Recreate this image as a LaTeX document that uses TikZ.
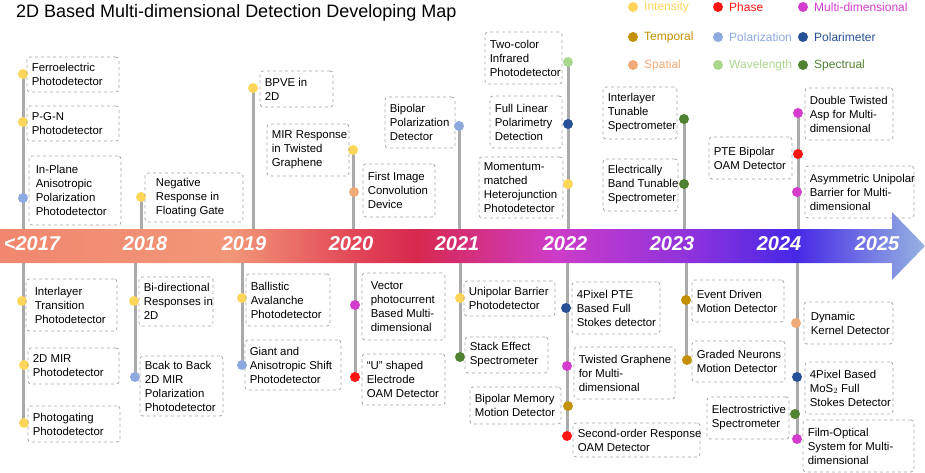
\documentclass[tikz,border=0pt]{standalone}
\usepackage{fontspec}
\setmainfont{Liberation Sans}
\definecolor{cInt}{RGB}{255,214,90}
\definecolor{cPha}{RGB}{255,20,20}
\definecolor{cMul}{RGB}{212,60,205}
\definecolor{cTem}{RGB}{195,145,0}
\definecolor{cPol}{RGB}{140,170,225}
\definecolor{cPom}{RGB}{40,80,150}
\definecolor{cSpa}{RGB}{240,170,120}
\definecolor{cWav}{RGB}{170,215,140}
\definecolor{cSpe}{RGB}{80,130,50}
\definecolor{stemc}{RGB}{170,170,170}
\definecolor{g0}{RGB}{240,135,110}
\definecolor{g1}{RGB}{242,150,120}
\definecolor{g2}{RGB}{226,72,88}
\definecolor{g3}{RGB}{215,40,78}
\definecolor{g4}{RGB}{205,60,200}
\definecolor{g5}{RGB}{140,50,220}
\definecolor{g6}{RGB}{70,40,230}
\definecolor{g7}{RGB}{150,180,225}
\pgfdeclarehorizontalshading{tl}{100bp}{color(0bp)=(g0); color(25bp)=(g0); color(37.5bp)=(g1); color(44bp)=(g2); color(47.5bp)=(g3); color(55bp)=(g4); color(62.5bp)=(g5); color(68bp)=(g6); color(75bp)=(g7); color(100bp)=(g7)}
\tikzset{
  bx/.style={draw=gray!70, dashed, rounded corners=3pt, line width=0.8pt, inner sep=0pt},
  txt/.style={font=\fontsize{11.4}{14}\selectfont, align=left, inner sep=0pt, anchor=west},
  dot/.style={circle, fill=#1, minimum size=10pt, inner sep=0pt},
  stem/.style={draw=stemc, line width=3pt},
  yr/.style={font=\fontsize{20}{20}\selectfont\bfseries\itshape, text=white, inner sep=0pt},
  leg/.style={font=\fontsize{12}{14}\selectfont, anchor=west, inner sep=0pt, text=#1}
}
\newcommand\bx[6]{%
  \node[bx, minimum width={(#4-#2)*1pt}, minimum height={(#5-#3)*1pt}] (#1) at ({(#2+#4)/2},{(#3+#5)/2}) {};
  \node[txt] (#1t) at ([xshift=5pt]#1.west) {#6};}
\newcommand\st[4]{\coordinate (#1a) at (#2,#3); \coordinate (#1b) at (#2,#4); \draw[stem] (#1a) -- (#1b);}
\newcommand\dt[4]{\node[dot=#4] (#1) at (#2,#3) {};}
\begin{document}
\begin{tikzpicture}[x=1pt,y=-1pt]
\useasboundingbox (0,0) rectangle (925,473);
% band
\path[shading=tl] (0,229) -- (892,229) -- (892,212) -- (925,246) -- (892,280) -- (892,263) -- (0,263) -- cycle;
% title
\node[anchor=west, inner sep=0pt, font=\fontsize{18}{20}\selectfont] (title) at (16,13) {2D Based Multi-dimensional Detection Developing Map};
% legend
\dt{l1}{633}{7}{cInt}\node[leg=cInt] (l1t) at (644,7) {Intensity};
\dt{l2}{718}{7}{cPha}\node[leg=cPha] (l2t) at (729,7) {Phase};
\dt{l3}{803}{7}{cMul}\node[leg=cMul] (l3t) at (814,7) {Multi-dimensional};
\dt{l4}{633}{37}{cTem}\node[leg=cTem] (l4t) at (644,37) {Temporal};
\dt{l5}{718}{37}{cPol}\node[leg=cPol] (l5t) at (729,37) {Polarization};
\dt{l6}{803}{37}{cPom}\node[leg=cPom] (l6t) at (814,37) {Polarimeter};
\dt{l7}{633}{65}{cSpa}\node[leg=cSpa] (l7t) at (644,65) {Spatial};
\dt{l8}{718}{65}{cWav}\node[leg=cWav] (l8t) at (729,65) {Wavelength};
\dt{l9}{803}{65}{cSpe}\node[leg=cSpe] (l9t) at (814,65) {Spectrual};
% years
\node[yr] (y17) at (32,244) {<2017};
\node[yr] (y18) at (145,244) {2018};
\node[yr] (y19) at (244,244) {2019};
\node[yr] (y20) at (351,244) {2020};
\node[yr] (y21) at (457,244) {2021};
\node[yr] (y22) at (565,244) {2022};
\node[yr] (y23) at (672,244) {2023};
\node[yr] (y24) at (779,244) {2024};
\node[yr] (y25) at (877,244) {2025};
% top stems
\st{s1}{23}{74}{229}\st{s2}{141}{197}{229}\st{s3}{253}{88}{229}\st{s4}{353}{150}{229}
\st{s5}{459}{126}{229}\st{s6}{568}{62}{229}\st{s7}{684}{119}{229}\st{s8}{798}{113}{229}
% bottom stems
\st{b1}{23}{263}{423}\st{b2}{135}{263}{377}\st{b3}{242}{263}{365}\st{b4}{355}{263}{377}
\st{b5}{460}{263}{357}\st{b6}{567}{263}{436}\st{b7}{686}{263}{360}\st{b8}{797}{263}{439}
% top dots
\dt{d1}{23}{74}{cInt}\dt{d2}{23}{122}{cInt}\dt{d3}{23}{198}{cPol}
\dt{d4}{141}{197}{cInt}\dt{d5}{253}{88}{cInt}
\dt{d6}{353}{150}{cInt}\dt{d7}{354}{192}{cSpa}
\dt{d8}{459}{126}{cPol}
\dt{d9}{568}{62}{cWav}\dt{d10}{568}{124}{cPom}\dt{d11}{568}{184}{cInt}
\dt{d12}{684}{119}{cSpe}\dt{d13}{684}{184}{cSpe}
\dt{d14}{798}{113}{cMul}\dt{d15}{798}{154}{cPha}\dt{d16}{797}{192}{cMul}
% bottom dots
\dt{e1}{22}{301}{cInt}\dt{e2}{24}{365}{cInt}\dt{e3}{24}{423}{cInt}
\dt{e4}{134}{301}{cInt}\dt{e5}{135}{377}{cPol}
\dt{e6}{242}{298}{cInt}\dt{e7}{242}{365}{cPol}
\dt{e8}{355}{305}{cMul}\dt{e9}{355}{377}{cPha}
\dt{e10}{460}{298}{cInt}\dt{e11}{460}{357}{cSpe}
\dt{e12}{566}{308}{cPom}\dt{e13}{567}{366}{cMul}\dt{e14}{568}{406}{cTem}\dt{e15}{567}{436}{cPha}
\dt{e16}{686}{300}{cTem}\dt{e17}{687}{360}{cTem}
\dt{e18}{796}{323}{cSpa}\dt{e19}{797}{377}{cPom}\dt{e20}{795}{414}{cSpe}\dt{e21}{797}{439}{cMul}
% top boxes
\bx{t1}{27}{57}{119}{92}{Ferroelectric\\Photodetector}
\bx{t2}{27}{106}{119}{141}{P-G-N\\Photodetector}
\bx{t3}{29}{156}{121}{225}{\hspace*{2pt}In-Plane\\\hspace*{2pt}Anisotropic\\\hspace*{2pt}Polarization\\\hspace*{2pt}Photodetector}
\bx{t4}{145}{173}{243}{222}{\hspace*{6pt}Negative\\\hspace*{6pt}Response in\\\hspace*{6pt}Floating Gate}
\bx{t5}{260}{71}{333}{107}{BPVE in\\2D}
\bx{t6}{267}{124}{349}{176}{MIR Response\\in Twisted\\Graphene}
\bx{t7}{363}{164}{435}{217}{First Image\\Convolution\\Device}
\bx{t8}{385}{97}{455}{148}{Bipolar\\Polarization\\Detector}
\bx{t9}{485}{32}{562}{84}{Two-color\\Infrared\\Photodetector}
\bx{t10}{490}{96}{562}{148}{Full Linear\\Polarimetry\\Detection}
\bx{t11}{479}{157}{563}{218}{Momentum-\\matched\\Heterojunction\\Photodetector}
\bx{t12}{603}{87}{677}{139}{Interlayer\\Tunable\\Spectrometer}
\bx{t13}{603}{159}{678}{211}{Electrically\\Band Tunable\\Spectrometer}
\bx{t14}{709}{137}{792}{179}{PTE Bipolar\\OAM Detector}
\bx{t15}{805}{88}{893}{140}{Double Twisted\\Asp for Multi-\\dimensional}
\bx{t16}{805}{166}{914}{218}{Asymmetric Unipolar\\Barrier for Multi-\\dimensional}
% bottom boxes
\bx{u1}{26}{279}{117}{331}{\hspace*{4pt}Interlayer\\\hspace*{4pt}Transition\\\hspace*{4pt}Photodetector}
\bx{u2}{28}{348}{119}{384}{2D MIR\\Photodetector}
\bx{u3}{28}{406}{120}{442}{Photogating\\Photodetector}
\bx{u4}{139}{277}{213}{326}{Bi-directional\\Responses in\\2D}
\bx{u5}{140}{356}{223}{416}{Bcak to Back\\2D MIR\\Polarization\\Photodetector}
\bx{u6}{246}{274}{330}{326}{Ballistic\\Avalanche\\Photodetector}
\bx{u7}{245}{340}{341}{390}{Giant and\\Anisotropic Shift\\Photodetector}
\bx{u8}{362}{273}{445}{340}{\hspace*{4pt}Vector\\\hspace*{4pt}photocurrent\\\hspace*{4pt}Based Multi-\\\hspace*{4pt}dimensional}
\bx{u9}{362}{354}{445}{405}{“U” shaped\\Electrode\\OAM Detector}
\bx{u10}{464}{281}{555}{316}{Unipolar Barrier\\Photodetector}
\bx{u11}{465}{337}{548}{373}{Stack Effect\\Spectrometer}
\bx{u12}{470}{387}{561}{424}{Bipolar Memory\\Motion Detector}
\bx{u13}{572}{282}{660}{334}{4Pixel PTE\\Based Full\\Stokes detector}
\bx{u14}{574}{347}{675}{399}{Twisted Graphene\\for Multi-\\dimensional}
\bx{u15}{573}{423}{700}{457}{Second-order Response\\OAM Detector}
\bx{u16}{692}{280}{784}{322}{Event Driven\\Motion Detector}
\bx{u17}{692}{341}{785}{382}{Graded Neurons\\Motion Detector}
\bx{u18}{707}{397}{789}{439}{Electrostrictive\\Spectrometer}
\bx{u19}{804}{302}{893}{344}{\hspace*{2pt}Dynamic\\\hspace*{2pt}Kernel Detector}
\bx{u20}{805}{362}{893}{414}{4Pixel Based\\MoS$_2$ Full\\Stokes Detector}
\bx{u21}{803}{420}{914}{472}{Film-Optical\\System for Multi-\\dimensional}
\end{tikzpicture}
\end{document}
